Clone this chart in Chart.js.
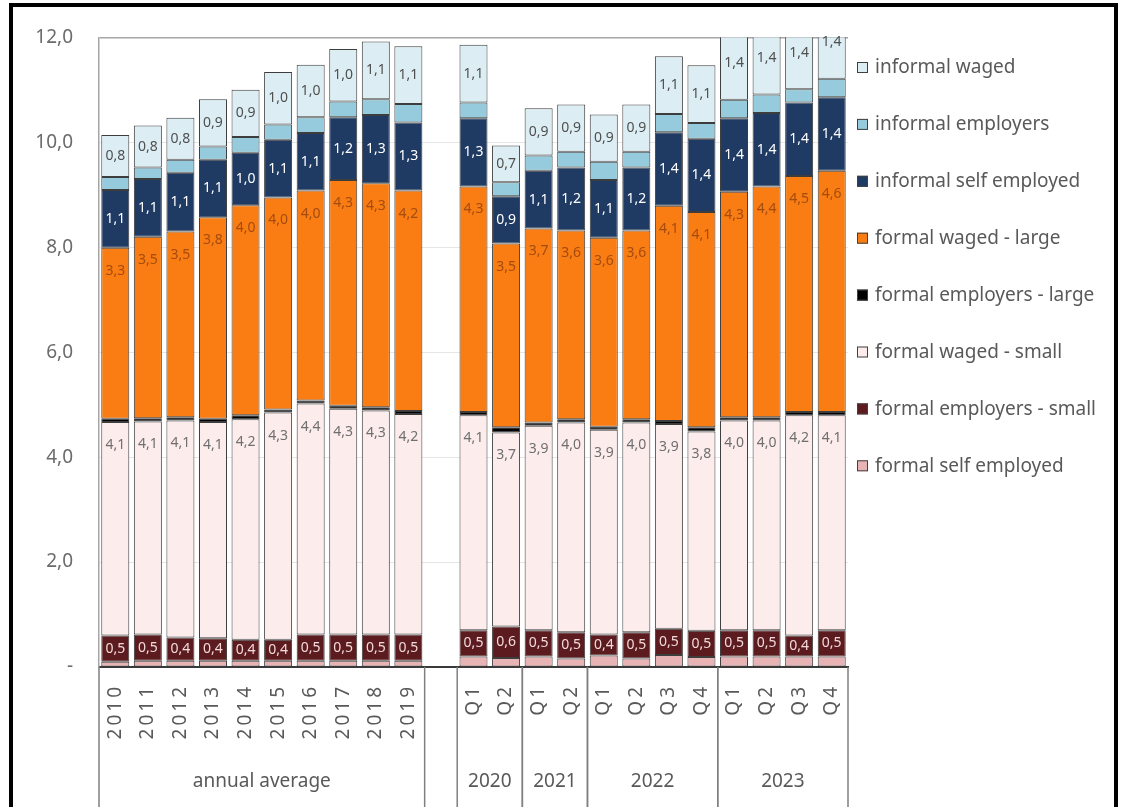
<!DOCTYPE html>
<html>
<head>
<meta charset="utf-8">
<script src="https://cdn.jsdelivr.net/npm/chart.js@4.4.0/dist/chart.umd.min.js"></script>
<style>
  html, body { margin: 0; padding: 0; background: #fff; }
  #wrap { position: relative; width: 1127px; height: 807px; overflow: hidden; }
  #frame { position: absolute; left: 9px; top: 3px; width: 1101px; height: 840px; border: 4px solid #000; pointer-events: none; }
</style>
</head>
<body>
<div id="wrap">
  <canvas id="chart" width="1127" height="807"></canvas>
  <div id="frame"></div>
</div>
<script>
// ── Data ────────────────────────────────────────────────────────────────────
// 10 annual averages, one empty slot, then quarters 2020-2023
const categories = ['2010', '2011', '2012', '2013', '2014', '2015', '2016', '2017', '2018', '2019', '',
    'Q1', 'Q2', 'Q1', 'Q2', 'Q1', 'Q2', 'Q3', 'Q4', 'Q1', 'Q2', 'Q3', 'Q4'];

const groupLabels = ['annual average', '2020', '2021', '2022', '2023'];
const groupFirst  = [0, 11, 13, 15, 19];
const groupLast   = [9, 12, 14, 18, 22];

const yTickValues = [0, 2, 4, 6, 8, 10, 12];

const formalSelfEmployed   = [0.10, 0.12, 0.12, 0.12, 0.12, 0.12, 0.12, 0.12, 0.12, 0.12, null,
    0.20, 0.17, 0.20, 0.16, 0.22, 0.16, 0.23, 0.19, 0.20, 0.20, 0.20, 0.20];
const formalEmployersSmall = [0.5, 0.5, 0.44, 0.43, 0.4, 0.4, 0.5, 0.5, 0.5, 0.5, null,
    0.5, 0.6, 0.5, 0.5, 0.4, 0.5, 0.5, 0.5, 0.5, 0.5, 0.4, 0.5];
const formalWagedSmall     = [4.07, 4.06, 4.14, 4.12, 4.2, 4.33, 4.4, 4.3, 4.27, 4.2, null,
    4.1, 3.7, 3.9, 4.0, 3.9, 4.0, 3.9, 3.8, 4.0, 4.0, 4.2, 4.1];
const formalEmployersLarge = [0.06, 0.06, 0.06, 0.06, 0.08, 0.06, 0.06, 0.06, 0.06, 0.06, null,
    0.06, 0.10, 0.06, 0.06, 0.06, 0.06, 0.06, 0.08, 0.06, 0.06, 0.06, 0.06];
const formalWagedLarge     = [3.26, 3.46, 3.54, 3.84, 4.0, 4.04, 4.0, 4.3, 4.27, 4.2, null,
    4.3, 3.5, 3.7, 3.6, 3.6, 3.6, 4.1, 4.1, 4.3, 4.4, 4.5, 4.6];
const informalSelfEmployed = [1.1, 1.1, 1.12, 1.1, 1.0, 1.1, 1.1, 1.2, 1.3, 1.3, null,
    1.3, 0.9, 1.1, 1.2, 1.1, 1.2, 1.4, 1.4, 1.4, 1.4, 1.4, 1.4];
const informalEmployers    = [0.25, 0.22, 0.25, 0.25, 0.3, 0.29, 0.3, 0.3, 0.3, 0.35, null,
    0.3, 0.27, 0.29, 0.3, 0.35, 0.3, 0.35, 0.3, 0.35, 0.35, 0.25, 0.35];
const informalWaged        = [0.8, 0.8, 0.8, 0.9, 0.9, 1.0, 1.0, 1.0, 1.1, 1.1, null,
    1.1, 0.7, 0.9, 0.9, 0.9, 0.9, 1.1, 1.1, 1.4, 1.4, 1.4, 1.4];

// ── Look ────────────────────────────────────────────────────────────────────
const FONT = '"Noto Sans", "Open Sans", sans-serif';
const TEXT_GREY = '#595959';

function fmt(v) {
    return v.toFixed(1).replace('.', ',');
}

// labelPos: 'center' or 'end' (just under the top of the segment)
function series(label, data, color, labelColor, labelPos) {
    return {
        label: label,
        data: data,
        backgroundColor: color,
        borderColor: '#3d3d3d',
        borderWidth: 1,
        borderSkipped: false,
        stack: 'jobs',
        valueLabel: labelColor ? { color: labelColor, pos: labelPos } : null
    };
}

// ── Plugins ─────────────────────────────────────────────────────────────────

const valueLabels = {
    id: 'valueLabels',
    afterDatasetsDraw(chart) {
        const ctx = chart.ctx;
        ctx.save();
        ctx.font = '14px ' + FONT;
        ctx.textAlign = 'center';
        ctx.textBaseline = 'middle';
        chart.data.datasets.forEach((ds, i) => {
            if (!ds.valueLabel) return;
            chart.getDatasetMeta(i).data.forEach((bar, j) => {
                const v = ds.data[j];
                if (v == null) return;
                const p = bar.getProps(['x', 'y', 'base'], true);
                const y = ds.valueLabel.pos === 'end' ? p.y + 23 : (p.y + p.base) / 2;
                ctx.fillStyle = ds.valueLabel.color;
                ctx.fillText(fmt(v), p.x, y);
            });
        });
        ctx.restore();
    }
};

// two-level category axis: rotated years / quarters, then the group names
const categoryAxis = {
    id: 'categoryAxis',
    afterDraw(chart) {
        const ctx = chart.ctx;
        const x = chart.scales.x;
        const area = chart.chartArea;
        const half = (x.getPixelForValue(1) - x.getPixelForValue(0)) / 2;
        ctx.save();
        ctx.fillStyle = TEXT_GREY;
        ctx.font = '19px ' + FONT;
        ctx.letterSpacing = '3px';
        ctx.textAlign = 'right';
        ctx.textBaseline = 'middle';
        categories.forEach((c, i) => {
            if (!c) return;
            ctx.save();
            ctx.translate(x.getPixelForValue(i), area.bottom + 17);
            ctx.rotate(-Math.PI / 2);
            ctx.fillText(c, 0, 0);
            ctx.restore();
        });
        ctx.letterSpacing = '0px';
        ctx.textAlign = 'center';
        ctx.strokeStyle = '#7f7f7f';
        ctx.lineWidth = 1.5;
        groupLabels.forEach((g, k) => {
            const left = x.getPixelForValue(groupFirst[k]) - half;
            const right = x.getPixelForValue(groupLast[k]) + half;
            ctx.fillText(g, (left + right) / 2, area.bottom + 115);
            [left, right].forEach(px => {
                ctx.beginPath();
                ctx.moveTo(px, area.bottom);
                ctx.lineTo(px, chart.height);
                ctx.stroke();
            });
        });
        ctx.restore();
    }
};

// legend on the right, top series first
const sideLegend = {
    id: 'sideLegend',
    afterDraw(chart) {
        const ctx = chart.ctx;
        const items = chart.data.datasets.slice().reverse();
        ctx.save();
        ctx.font = '19px ' + FONT;
        ctx.textAlign = 'left';
        ctx.textBaseline = 'middle';
        items.forEach((ds, k) => {
            const y = 68 + k * 56.9;
            ctx.fillStyle = ds.backgroundColor;
            ctx.fillRect(857, y - 6, 11, 11);
            ctx.strokeStyle = '#404040';
            ctx.lineWidth = 1;
            ctx.strokeRect(857.5, y - 5.5, 10, 10);
            ctx.fillStyle = TEXT_GREY;
            ctx.fillText(ds.label, 875, y);
        });
        ctx.restore();
    }
};

// ── Chart ───────────────────────────────────────────────────────────────────

const datasets = [
    series('formal self employed',     formalSelfEmployed,   '#e8b3b5'),
    series('formal employers - small', formalEmployersSmall, '#5c1c1f', '#f2d9da', 'center'),
    series('formal waged - small',     formalWagedSmall,     '#fcecec', '#6f6f6f', 'end'),
    series('formal employers - large', formalEmployersLarge, '#000000'),
    series('formal waged - large',     formalWagedLarge,     '#f97d12', '#a44b10', 'end'),
    series('informal self employed',   informalSelfEmployed, '#1f3a63', '#ffffff', 'center'),
    series('informal employers',       informalEmployers,    '#95cbdc'),
    series('informal waged',           informalWaged,        '#dceef4', '#4f4f4f', 'center')
];

new Chart(document.getElementById('chart'), {
    type: 'bar',
    data: { labels: categories, datasets: datasets },
    options: {
        responsive: false,
        animation: false,
        events: [],
        categoryPercentage: 1,
        barPercentage: 0.86,
        layout: { padding: { left: 12, right: 279, top: 37, bottom: 0 } },
        plugins: { legend: { display: false }, tooltip: { enabled: false } },
        scales: {
            x: {
                stacked: true,
                grid: { display: false },
                border: { color: '#3a3a3a', width: 2 },
                ticks: { display: false },
                afterFit: s => { s.height = 140; }
            },
            y: {
                stacked: true,
                min: 0,
                max: 12,
                afterBuildTicks: s => { s.ticks = yTickValues.map(v => ({ value: v })); },
                grid: {
                    drawTicks: false,
                    color: c => c.tick.value === 12 ? '#a6a6a6' : '#e6e6e6',
                    lineWidth: c => c.tick.value === 12 ? 1.5 : 1
                },
                border: { color: '#a6a6a6', width: 1.5 },
                ticks: {
                    padding: 26,
                    color: '#6b6b6b',
                    font: { family: FONT, size: 19 },
                    callback: v => v === 0 ? '-' : fmt(v)
                },
                afterFit: s => { s.width = 87; }
            }
        }
    },
    plugins: [valueLabels, categoryAxis, sideLegend]
});
</script>
</body>
</html>
